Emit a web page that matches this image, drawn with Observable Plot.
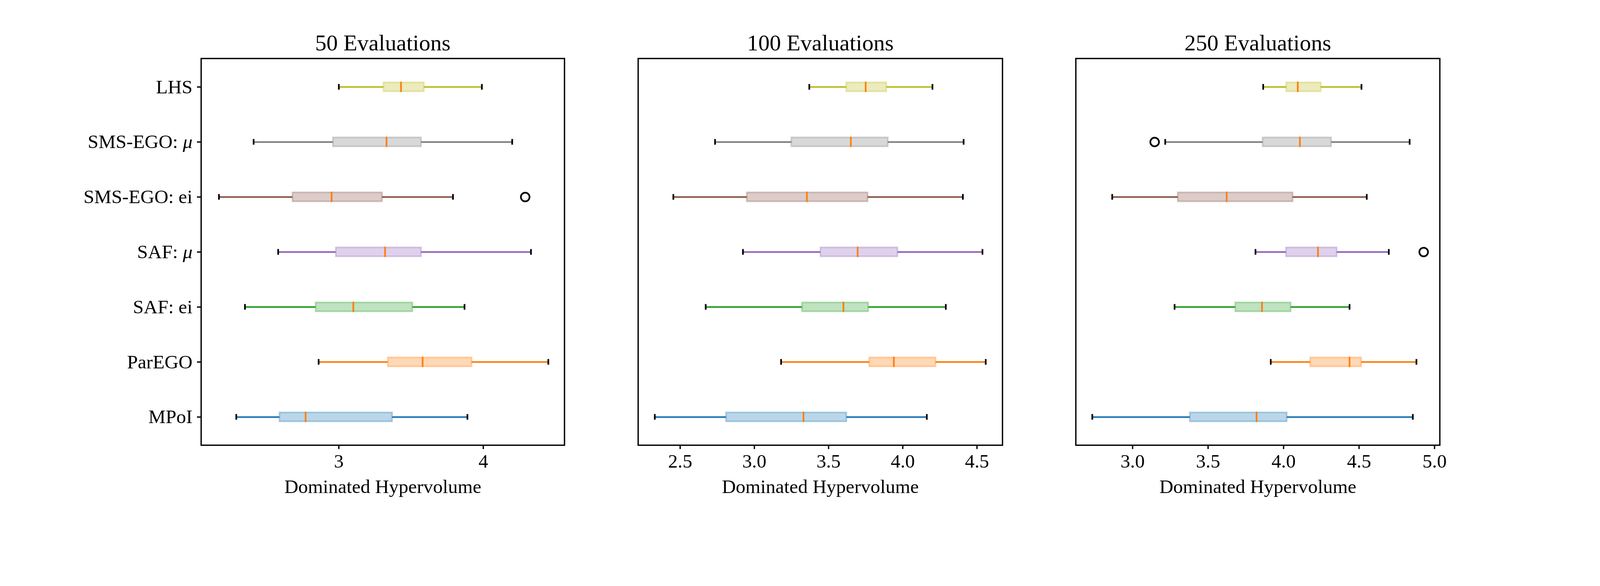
<!DOCTYPE html>
<html>
<head>
<meta charset="utf-8">
<script src="https://cdn.jsdelivr.net/npm/d3@7"></script>
<script src="https://cdn.jsdelivr.net/npm/@observablehq/plot@0.6"></script>
<style>
  html, body { margin: 0; background: #fff; overflow: hidden; }
  #chart { position: relative; width: 4800px; height: 1500px; font-family: "Liberation Serif", serif; transform-origin: 0 0; }
  #chart svg { position: absolute; top: 0; max-width: none; }
</style>
</head>
<body>
<div id="chart"></div>
<script>
// methods, top row first
const methods = ["LHS", "SMS-EGO: μ", "SMS-EGO: ei", "SAF: μ", "SAF: ei", "ParEGO", "MPoI"];
const colors = ["#bcbd22", "#7f7f7f", "#8c564b", "#9467bd", "#2ca02c", "#ff7f0e", "#1f77b4"];

// [whisker low, q1, median, q3, whisker high] per method, per panel
const evals50 = [
  [3.00, 3.31, 3.43, 3.59, 3.99],
  [2.41, 2.96, 3.33, 3.57, 4.20],
  [2.17, 2.68, 2.95, 3.30, 3.79],
  [2.58, 2.98, 3.32, 3.57, 4.33],
  [2.35, 2.84, 3.10, 3.51, 3.87],
  [2.86, 3.34, 3.58, 3.92, 4.45],
  [2.29, 2.59, 2.77, 3.37, 3.89]
];
const evals100 = [
  [3.37, 3.62, 3.75, 3.89, 4.20],
  [2.735, 3.25, 3.65, 3.90, 4.41],
  [2.454, 2.95, 3.354, 3.764, 4.405],
  [2.923, 3.446, 3.696, 3.965, 4.537],
  [2.672, 3.322, 3.60, 3.768, 4.29],
  [3.18, 3.775, 3.94, 4.222, 4.559],
  [2.329, 2.81, 3.331, 3.621, 4.162]
];
const evals250 = [
  [3.865, 4.018, 4.094, 4.247, 4.516],
  [3.216, 3.862, 4.108, 4.316, 4.835],
  [2.865, 3.30, 3.623, 4.061, 4.551],
  [3.814, 4.017, 4.228, 4.353, 4.697],
  [3.278, 3.681, 3.857, 4.048, 4.437],
  [3.915, 4.177, 4.437, 4.515, 4.880],
  [2.733, 3.38, 3.821, 4.022, 4.856]
];
const outliers50 = [{method: "SMS-EGO: ei", value: 4.29}];
const outliers100 = [];
const outliers250 = [{method: "SMS-EGO: μ", value: 3.146}, {method: "SAF: μ", value: 4.928}];

const panels = [
  {title: "50 Evaluations", stats: evals50, outliers: outliers50, domain: [2.047, 4.562], ticks: [3, 4], fmt: d3.format("d"), left: 603, width: 1090, yAxis: true},
  {title: "100 Evaluations", stats: evals100, outliers: outliers100, domain: [2.217, 4.672], ticks: [2.5, 3, 3.5, 4, 4.5], fmt: d3.format(".1f"), left: 1914, width: 1093, yAxis: false},
  {title: "250 Evaluations", stats: evals250, outliers: outliers250, domain: [2.624, 5.035], ticks: [3, 3.5, 4, 4.5, 5], fmt: d3.format(".1f"), left: 3227, width: 1092, yAxis: false}
];

const fs = 58;
const chart = document.getElementById("chart");
const fit = Math.min(window.innerWidth / 4800, window.innerHeight / 1500, 1);
if (fit < 1) chart.style.transform = `scale(${fit})`;

for (const p of panels) {
  const rows = methods.map((m, i) => {
    const [lo, q1, med, q3, hi] = p.stats[i];
    return {method: m, color: colors[i], lo, q1, med, q3, hi};
  });
  const marginLeft = p.yAxis ? p.left : 30;
  const plot = Plot.plot({
    width: marginLeft + p.width + 30,
    height: 1500,
    marginLeft,
    marginRight: 30,
    marginTop: 175,
    marginBottom: 165,
    style: {fontFamily: "Liberation Serif, serif", fontSize: fs + "px", color: "#000", background: "transparent"},
    x: {domain: p.domain},
    y: {domain: methods, padding: 0, axis: null},
    marks: [
      Plot.frame({stroke: "#000", strokeWidth: 4}),
      Plot.ruleY(rows, {y: "method", x1: "lo", x2: "q1", stroke: "color", strokeWidth: 5}),
      Plot.ruleY(rows, {y: "method", x1: "q3", x2: "hi", stroke: "color", strokeWidth: 5}),
      Plot.tickX(rows, {y: "method", x: "lo", stroke: "#000", strokeWidth: 5, insetTop: 74, insetBottom: 74}),
      Plot.tickX(rows, {y: "method", x: "hi", stroke: "#000", strokeWidth: 5, insetTop: 74, insetBottom: 74}),
      Plot.barX(rows, {y: "method", x1: "q1", x2: "q3", fill: "color", fillOpacity: 0.3, stroke: "color", strokeOpacity: 0.3, strokeWidth: 5, insetTop: 69, insetBottom: 69}),
      Plot.tickX(rows, {y: "method", x: "med", stroke: "#ff7f0e", strokeWidth: 5, insetTop: 67, insetBottom: 67}),
      Plot.dot(p.outliers, {y: "method", x: "value", r: 13, stroke: "#000", strokeWidth: 5, fill: "none"}),
      Plot.axisX({ticks: p.ticks, tickFormat: p.fmt, tickSize: 12, tickPadding: 14, strokeWidth: 4, fontSize: fs, label: null}),
      p.yAxis
        ? Plot.axisY({tickSize: 12, tickPadding: 14, strokeWidth: 4, fontSize: fs, label: null})
        : null,
      Plot.text([p.title], {frameAnchor: "top", lineAnchor: "middle", dy: -46, fontSize: 68, fill: "#000"}),
      Plot.text(["Dominated Hypervolume"], {frameAnchor: "bottom", lineAnchor: "middle", dy: 125, fontSize: fs, fill: "#000"})
    ]
  });
  plot.style.left = (p.left - marginLeft) + "px";
  // italic mu, like the TeX labels
  for (const t of plot.querySelectorAll("text")) {
    if (t.textContent.endsWith("μ")) {
      const base = t.textContent.slice(0, -1);
      t.textContent = base;
      const mu = document.createElementNS("http://www.w3.org/2000/svg", "tspan");
      mu.setAttribute("font-style", "italic");
      mu.textContent = "μ";
      t.appendChild(mu);
    }
  }
  chart.appendChild(plot);
}
</script>
</body>
</html>
